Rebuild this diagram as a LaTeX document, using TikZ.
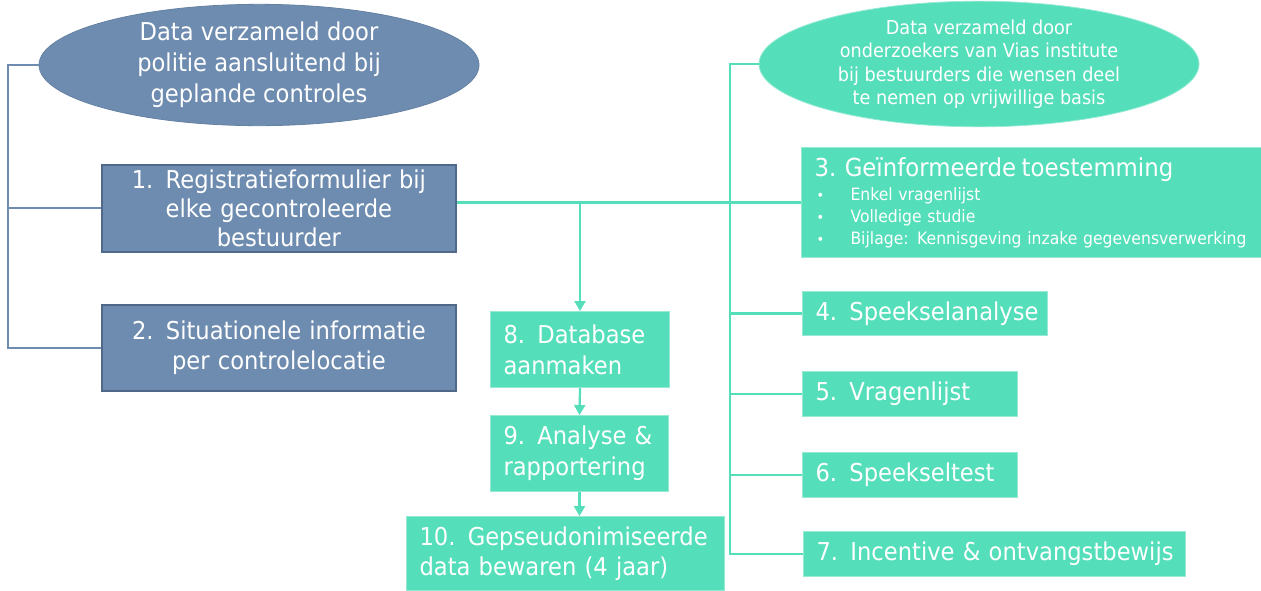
\documentclass[tikz,border=0pt]{standalone}
\usepackage{fontspec}
\setmainfont{DejaVu Sans}[FakeStretch=0.92]
\usetikzlibrary{positioning, shapes.geometric, arrows.meta}
\definecolor{viBlue}{RGB}{110, 140, 176}
\definecolor{viBlueDark}{RGB}{80, 104, 138}
\definecolor{viTeal}{RGB}{84, 222, 186}
\definecolor{viTealEdge}{RGB}{150, 234, 212}
\newcommand{\consentItem}[1]{\mbox{\makebox[18pt][l]{\hspace{1pt}\scriptsize•}#1}}
\tikzset{
    base/.style={
        text=white,
        inner sep=0pt,
        font=\fontsize{12.3}{15}\selectfont
    },
    policeOval/.style={
        base,
        ellipse,
        fill=viBlue,
        draw=viBlue!92!black,
        align=center,
        font=\fontsize{12.3}{15.5}\selectfont
    },
    viasOval/.style={
        base,
        ellipse,
        fill=viTeal,
        draw=viTealEdge,
        align=center,
        font=\fontsize{9.6}{11.7}\selectfont
    },
    policeBox/.style={
        base,
        rectangle,
        fill=viBlue,
        draw=viBlueDark,
        line width=0.9pt,
        align=center,
        inner xsep=4pt,
        anchor=north west
    },
    viasBox/.style={
        base,
        rectangle,
        fill=viTeal,
        draw=viTealEdge,
        line width=0.5pt,
        align=left,
        inner xsep=6.5pt,
        anchor=north west
    },
    policeLine/.style={
        draw=viBlue,
        line width=1pt
    },
    viasLine/.style={
        draw=viTeal,
        line width=1.1pt
    },
    viasArrow/.style={
        viasLine,
        -{Triangle[length=5pt, width=5.5pt]}
    }
}

\begin{document}
\begin{tikzpicture}[x=0.5pt, y=-0.5pt]
    \useasboundingbox (0,0) rectangle (1261,590);

    % Police side
    \node[policeOval, minimum width=220pt, minimum height=57.5pt] (ellPolice) at (259,65)
        {Data verzameld door\\politie aansluitend bij\\geplande controles};
    \node[policeBox, text width=169pt, minimum height=43.5pt, font=\fontsize{12.3}{14.6}\selectfont] (regForm) at (101,164)
        {1. Registratieformulier bij\\elke gecontroleerde\\bestuurder};
    \node[policeBox, text width=169pt, minimum height=43pt] (sitInfo) at (101,304)
        {2. Situationele informatie\\per controlelocatie};

    % Vias side
    \node[viasOval, minimum width=220pt, minimum height=57pt] (ellVias) at (979,64)
        {Data verzameld door\\onderzoekers van Vias institute\\bij bestuurders die wensen deel\\te nemen op vrijwillige basis};
    \node[viasBox, text width=217pt, minimum height=55pt, font=\fontsize{8.5}{10.8}\selectfont] (consent) at (801,147)
        {{\fontsize{12.4}{15}\selectfont 3. Geïnformeerde toestemming}\\[1.5pt]
         \consentItem{Enkel vragenlijst}\\
         \consentItem{Volledige studie}\\
         \consentItem{Bijlage: Kennisgeving inzake gegevensverwerking}};
    \node[viasBox, text width=109.5pt, minimum height=22pt] (salivaAn) at (802,291) {\mbox{4. Speekselanalyse}};
    \node[viasBox, text width=94.5pt, minimum height=22.5pt] (survey) at (802,371) {\mbox{5. Vragenlijst}};
    \node[viasBox, text width=94.5pt, minimum height=22.5pt] (salivaTest) at (802,452) {\mbox{6. Speekseltest}};
    \node[viasBox, text width=178pt, minimum height=22.5pt] (incentive) at (803,531) {\mbox{7. Incentive \& ontvangstbewijs}};

    % Data flow
    \node[viasBox, text width=76.5pt, minimum height=38pt, font=\fontsize{12.3}{15.5}\selectfont] (database) at (490,311)
        {8. Database\\aanmaken};
    \node[viasBox, text width=76pt, minimum height=38pt, font=\fontsize{12.3}{15.5}\selectfont] (analysis) at (490,415)
        {9. Analyse \&\\rapportering};
    \node[viasBox, text width=146pt, minimum height=37pt] (storage) at (406,516)
        {\mbox{10. Gepseudonimiseerde}\\\mbox{data bewaren (4 jaar)}};

    % Connectors
    \coordinate (policeSpine) at (8,0);
    \coordinate (viasSpine) at (730,0);
    \draw[policeLine] (ellPolice.west) -- (ellPolice.west -| policeSpine) |- (sitInfo.west);
    \draw[policeLine] (regForm.west -| policeSpine) -- (regForm.west);

    \draw[viasLine] (ellVias.west) -- (ellVias.west -| viasSpine) |- (incentive.west);
    \draw[viasLine] (regForm.east |- consent.west) -- (consent.west);
    \foreach \b in {salivaAn, survey, salivaTest} {
        \draw[viasLine] (\b.west -| viasSpine) -- (\b.west);
    }
    \draw[viasArrow] (database.north |- consent.west) -- (database.north);
    \draw[viasArrow] (database.south) -- (analysis.north);
    \draw[viasArrow] (analysis.south) -- (analysis.south |- storage.north);
\end{tikzpicture}
\end{document}
